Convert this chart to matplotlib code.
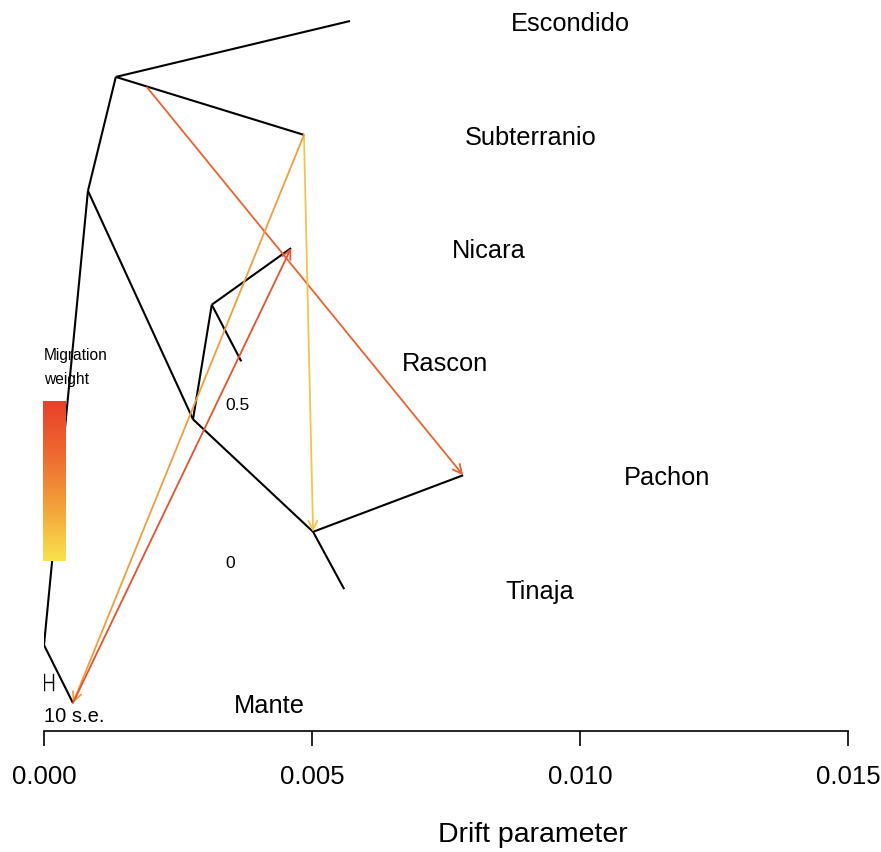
import numpy as np
import matplotlib
matplotlib.use("Agg")
import matplotlib.pyplot as plt
from matplotlib.colors import LinearSegmentedColormap

plt.rcParams['font.family'] = ['Liberation Sans', 'DejaVu Sans']

# tree nodes: drift (x) and vertical position (y, 0 = bottom leaf, 1 = top leaf)
nodes = {
    'root': (0.00000, 0.085),
    'A': (0.00082, 0.751),
    'B': (0.00134, 0.918),
    'C': (0.00278, 0.416),
    'D': (0.00313, 0.584),
    'E': (0.00502, 0.251),
    'Escondido': (0.00571, 1.000),
    'Subterranio': (0.00485, 0.833),
    'Nicara': (0.00461, 0.667),
    'Rascon': (0.00368, 0.501),
    'Pachon': (0.00782, 0.334),
    'Tinaja': (0.00560, 0.167),
    'Mante': (0.00054, 0.000),
    'mig1': (0.00192, 0.903),
}
edges = [('root', 'A'), ('root', 'Mante'), ('A', 'B'), ('A', 'C'),
         ('B', 'Escondido'), ('B', 'Subterranio'), ('C', 'D'), ('C', 'E'),
         ('D', 'Nicara'), ('D', 'Rascon'), ('E', 'Pachon'), ('E', 'Tinaja')]
leaves = ['Escondido', 'Subterranio', 'Nicara', 'Rascon', 'Pachon', 'Tinaja', 'Mante']

# migration edges (from, to, weight)
mig_from = ['mig1', 'Subterranio', 'Subterranio', 'Mante']
mig_to = ['Pachon', 'E', 'Mante', 'Nicara']
mig_weight = [0.37, 0.08, 0.18, 0.43]

se = 1.7e-5
xticks = [0.000, 0.005, 0.010, 0.015]

cmap = LinearSegmentedColormap.from_list(
    'mig', ['#F9E34C', '#F3A23A', '#EE6A30', '#E8402A'])

W, H = 881, 853
fig = plt.figure(figsize=(W / 100, H / 100), dpi=100)
ax = fig.add_axes([44 / W, (H - 732) / H, 804 / W, 732 / H])
ax.set_xlim(0, 0.015)
ax.set_ylim(-28 / 682, 704 / 682)
dy = 2 / 682  # small downward nudge for text

for a, b in edges:
    (x0, y0), (x1, y1) = nodes[a], nodes[b]
    ax.plot([x0, x1], [y0, y1], color='black', lw=1.5, solid_capstyle='butt')

for name in leaves:
    x, y = nodes[name]
    ax.text(x + 0.003, y - dy, name, fontsize=18.3, va='center', ha='left')

for a, b, w in zip(mig_from, mig_to, mig_weight):
    ax.annotate('', xy=nodes[b], xytext=nodes[a],
                arrowprops=dict(arrowstyle='->', color=cmap(w / 0.5), lw=1.3,
                                shrinkA=0, shrinkB=0, mutation_scale=16))

# standard error bar
ys = 0.031
ax.plot([0, 0], [ys - 0.012, ys + 0.012], color='black', lw=1)
ax.plot([10 * se, 10 * se], [ys - 0.012, ys + 0.012], color='black', lw=1)
ax.plot([0, 10 * se], [ys, ys], color='black', lw=1)
ax.text(0, -0.016 - dy, '10 s.e.', fontsize=14.5, va='center', ha='left')

for s in ['top', 'left', 'right']:
    ax.spines[s].set_visible(False)
ax.spines['bottom'].set_bounds(0, 0.015)
ax.spines['bottom'].set_linewidth(1.2)
ax.set_yticks([])
ax.set_xticks(xticks)
ax.set_xticklabels(['%.3f' % t for t in xticks])
ax.tick_params(axis='x', direction='out', length=11, width=1.2, pad=13, labelsize=18.5)
ax.set_xlabel('Drift parameter', fontsize=20.5)
ax.xaxis.set_label_coords((533 - 44) / 804, -103 / 732)
ax.xaxis.label.set_va('center')

# migration weight colour key
cax = fig.add_axes([43 / W, (H - 562) / H, 23 / W, 160 / H])
grad = np.linspace(0, 1, 200)[:, None]
cax.imshow(grad, cmap=cmap, aspect='auto', origin='lower')
cax.axis('off')
fig.text(44 / W, 1 - 356 / H, 'Migration', fontsize=11.2, va='center', ha='left')
fig.text(44 / W, 1 - 380 / H, 'weight', fontsize=11.2, va='center', ha='left')
fig.text(237 / W, 1 - 406 / H, '0.5', fontsize=12.5, va='center', ha='center')
fig.text(230 / W, 1 - 564 / H, '0', fontsize=12.5, va='center', ha='center')

fig.savefig('out.png', dpi=100)
